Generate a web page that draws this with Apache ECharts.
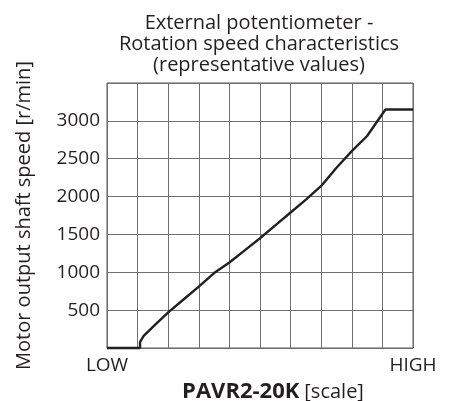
<!DOCTYPE html>
<html>
<head>
<meta charset="utf-8">
<script src="https://cdn.jsdelivr.net/npm/echarts@6/dist/echarts.min.js"></script>
<style>
  html, body { margin: 0; padding: 0; background: #fff; }
  #chart { width: 452px; height: 401px; }
</style>
</head>
<body>
<div id="chart"></div>
<script>
// Potentiometer scale position (0 = LOW, 10 = HIGH)
const dialPos = [0, 1.08, 1.08, 1.2, 1.5, 2.0, 2.5, 3.0, 3.5, 4.0, 4.5, 5.0, 5.5, 6.0, 6.5, 7.0, 7.5, 8.0, 8.5, 9.1, 10];
// Motor output shaft speed [r/min]
const shaftSpeed = [0, 0, 80, 160, 280, 470, 640, 810, 990, 1130, 1290, 1450, 1620, 1790, 1960, 2140, 2380, 2600, 2800, 3150, 3150];

const xEndLabels = { 0: 'LOW', 10: 'HIGH' };
const yTickLabels = [500, 1000, 1500, 2000, 2500, 3000];

const titleLines = ['External potentiometer -', 'Rotation speed characteristics', '(representative values)'];
const xName = 'PAVR2-20K';
const xUnit = '[scale]';
const yName = 'Motor output shaft speed [r/min]';

const FONT = '"Open Sans", sans-serif';
const TXT = '#231f20';
const GRIDC = '#707070';

const chart = echarts.init(document.getElementById('chart'), null, { renderer: 'canvas' });

chart.setOption({
  animation: false,
  backgroundColor: '#fff',
  title: [
    {
      text: titleLines.join('\n'),
      left: 254,
      top: 8,
      textAlign: 'center',
      textStyle: { fontFamily: FONT, fontSize: 20, fontWeight: 'normal', color: TXT, lineHeight: 21 }
    },
    {
      text: '{b|' + xName + '} {n|' + xUnit + '}',
      left: 268,
      top: 376,
      textAlign: 'center',
      textStyle: {
        rich: {
          b: { fontFamily: FONT, fontSize: 22, fontWeight: 'bold', color: TXT },
          n: { fontFamily: FONT, fontSize: 20, fontWeight: 'normal', color: TXT }
        }
      }
    }
  ],
  grid: {
    left: 107, top: 83, width: 306, height: 265,
    show: true, borderColor: '#555', borderWidth: 1, backgroundColor: 'transparent'
  },
  xAxis: {
    type: 'value', min: 0, max: 10, interval: 1,
    axisLine: { show: false },
    axisTick: { show: false },
    axisLabel: {
      showMinLabel: true, showMaxLabel: true,
      margin: 8,
      fontFamily: FONT, fontSize: 19, color: TXT,
      formatter: v => xEndLabels[v] || ''
    },
    splitLine: { show: true, lineStyle: { color: GRIDC, width: 1 } }
  },
  yAxis: {
    type: 'value', min: 0, max: 3500, interval: 500,
    name: yName,
    nameLocation: 'middle',
    nameGap: 73,
    nameTextStyle: { fontFamily: FONT, fontSize: 20, color: TXT },
    axisLine: { show: false },
    axisTick: { show: false },
    axisLabel: {
      margin: 7,
      fontFamily: FONT, fontSize: 19, color: TXT,
      formatter: v => yTickLabels.includes(v) ? String(v) : ''
    },
    splitLine: { show: true, lineStyle: { color: GRIDC, width: 1 } }
  },
  series: [{
    type: 'line',
    data: dialPos.map((x, i) => [x, shaftSpeed[i]]),
    showSymbol: false,
    smooth: false,
    lineStyle: { color: '#231f20', width: 2.4 },
    clip: false
  }]
});
</script>
</body>
</html>
